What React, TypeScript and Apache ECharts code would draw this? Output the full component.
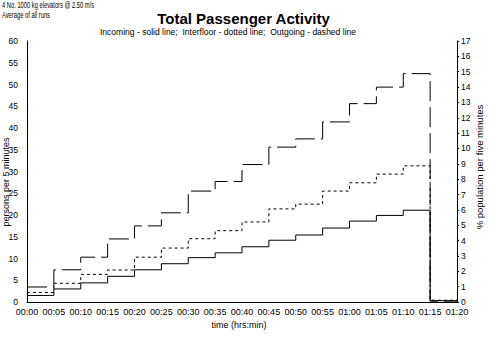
import React, { useEffect, useRef } from "react";
import * as echarts from "echarts";

// time in minutes at each 5-minute boundary (00:00 ... 01:20)
const timeMinutes = [0, 5, 10, 15, 20, 25, 30, 35, 40, 45, 50, 55, 60, 65, 70, 75, 80];
// persons per 5 minutes, one value per interval
const incoming = [1.5, 3.0, 4.4, 5.9, 7.4, 8.8, 10.2, 11.3, 12.7, 14.2, 15.4, 17.0, 18.6, 19.9, 21.1, 0.3];
const interfloor = [2.2, 4.3, 6.35, 7.35, 10.3, 12.4, 14.55, 16.4, 18.4, 21.4, 22.5, 25.5, 27.4, 29.4, 31.3, 0.4];
const outgoing = [3.45, 7.4, 10.3, 14.5, 17.5, 20.5, 25.5, 27.7, 31.6, 35.6, 37.5, 41.4, 45.6, 49.4, 52.5, 0.2];

const titleText = "Total Passenger Activity";
const subtitleText = "Incoming - solid line;  Interfloor - dotted line;  Outgoing - dashed line";
const noteLine1 = "4 No. 1000 kg elevators @ 2.50 m/s";
const noteLine2 = "Average of all runs";
const leftAxisName = "persons per 5 minutes";
const rightAxisName = "% population per five minutes";
const xAxisName = "time (hrs:min)";

const FONT = "Liberation Sans, Arial, sans-serif";

const pad = (n: number) => (n < 10 ? "0" + n : "" + n);
const fmtTime = (m: number) => pad(Math.floor(m / 60)) + ":" + pad(Math.round(m % 60));

const toSteps = (vals: number[]) =>
  timeMinutes.map((t, i) => [t, vals[Math.min(i, vals.length - 1)]]);

function txt(
  text: string,
  x: number,
  y: number,
  size: number,
  opts: { align?: string; weight?: string; rotation?: number; scaleX?: number } = {}
) {
  const align = opts.align || "center";
  return {
    type: "text",
    x,
    y,
    rotation: opts.rotation || 0,
    scaleX: opts.scaleX || 1,
    style: {
      text,
      fill: "#000",
      fontSize: size,
      fontFamily: FONT,
      fontWeight: opts.weight || "normal",
      align,
      textAlign: align,
      verticalAlign: "middle",
      textVerticalAlign: "middle",
    },
  };
}

export default function App() {
  const ref = useRef<HTMLDivElement>(null);

  useEffect(() => {
    if (!ref.current) return;
    const chart = echarts.init(ref.current, undefined, { renderer: "svg" });
    const line = (name: string, vals: number[], type: any) => ({
      name,
      type: "line",
      step: "end",
      symbol: "none",
      yAxisIndex: 0,
      data: toSteps(vals),
      lineStyle: { color: "#000", width: 1, type },
      emphasis: { disabled: true },
    });
    chart.setOption({
      animation: false,
      backgroundColor: "#fff",
      grid: { left: 27, right: 35, top: 41, bottom: 58, containLabel: false },
      xAxis: {
        type: "value",
        min: 0,
        max: 80,
        interval: 5,
        axisLine: { show: true, lineStyle: { color: "#000", width: 1 } },
        axisTick: { show: false },
        splitLine: { show: false },
        axisLabel: {
          color: "#000",
          fontSize: 9,
          fontFamily: FONT,
          margin: 5,
          formatter: (v: number) => fmtTime(v),
        },
      },
      yAxis: [
        {
          type: "value",
          position: "left",
          min: 0,
          max: 60,
          interval: 5,
          axisLine: { show: true, lineStyle: { color: "#000", width: 1 } },
          axisTick: { show: false },
          splitLine: { show: false },
          axisLabel: { color: "#000", fontSize: 8.5, fontFamily: FONT, margin: 9 },
        },
        {
          type: "value",
          position: "right",
          min: 0,
          max: 17,
          interval: 1,
          axisLine: { show: true, lineStyle: { color: "#000", width: 1 } },
          axisTick: { show: true, length: 2, lineStyle: { color: "#000" } },
          splitLine: { show: false },
          axisLabel: { color: "#000", fontSize: 8.5, fontFamily: FONT, margin: 4 },
        },
      ],
      series: [
        line("Incoming", incoming, "solid"),
        line("Interfloor", interfloor, [3, 3]),
        line("Outgoing", outgoing, [20, 6]),
      ],
      graphic: [
        txt(noteLine1, 2, 5, 8.5, { align: "left", scaleX: 0.68 }),
        txt(noteLine2, 2, 15.5, 8.5, { align: "left", scaleX: 0.68 }),
        txt(titleText, 243.5, 18, 15, { weight: "bold" }),
        txt(subtitleText, 228, 32, 9.5, { scaleX: 0.9 }),
        txt(leftAxisName, 5.5, 182, 9, { rotation: Math.PI / 2 }),
        txt(rightAxisName, 479, 167, 9.5, { rotation: Math.PI / 2 }),
        txt(xAxisName, 239, 325, 9),
      ],
    });
    return () => chart.dispose();
  }, []);

  return (
    <div
      ref={ref}
      style={{ position: "absolute", left: 0, top: 0, width: 492, height: 360 }}
    />
  );
}
